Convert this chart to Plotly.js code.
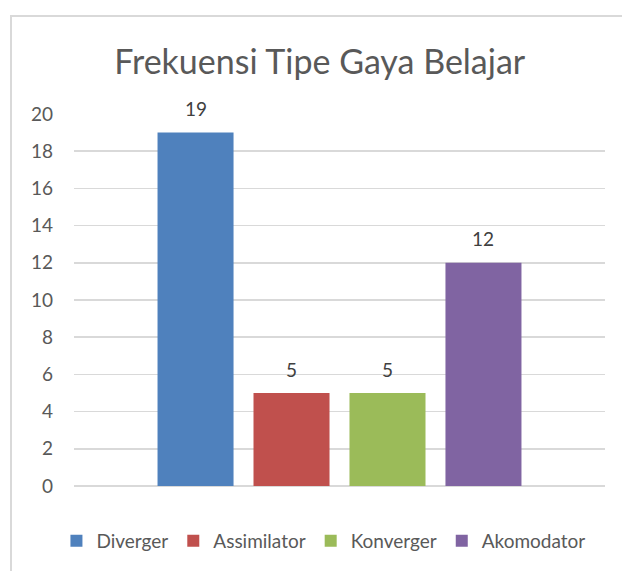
<!DOCTYPE html>
<html>
<head>
<meta charset="utf-8">
<script src="https://cdn.plot.ly/plotly-3.0.1.min.js"></script>
<style>
html,body{margin:0;padding:0;background:#fff;}
#wrap{position:relative;width:622px;height:571px;overflow:hidden;}
#frame{position:absolute;left:10px;top:15px;width:640px;height:600px;border-left:2px solid #d9d9d9;border-top:2px solid #d9d9d9;box-sizing:border-box;pointer-events:none;}
#chart{position:absolute;left:0;top:0;width:622px;height:571px;}
</style>
</head>
<body>
<div id="wrap"><div id="chart"></div><div id="frame"></div></div>
<script>
const category = ["Frekuensi"];
const seriesNames = ["Diverger", "Assimilator", "Konverger", "Akomodator"];
const seriesValues = [19, 5, 5, 12];
const seriesColors = ["#4F81BD", "#C0504D", "#9BBB59", "#8064A2"];
const yTicks = [0, 2, 4, 6, 8, 10, 12, 14, 16, 18, 20];

const FONT = "Lato, 'Open Sans', sans-serif";
const BARGAP = 0.277;
const BARGROUPGAP = 0.208;

const traces = seriesNames.map((name, i) => ({
  type: "bar",
  name: name,
  x: category,
  y: [seriesValues[i]],
  marker: {color: seriesColors[i]},
  hoverinfo: "skip"
}));

// data labels placed at each bar's slot centre (derived from bargap) above the bar top
const n = seriesNames.length;
const slot = (1 - BARGAP) / n;
const annotations = seriesValues.map((v, i) => ({
  xref: "x", yref: "y",
  x: -(1 - BARGAP) / 2 + slot * (i + 0.5),
  y: v,
  text: String(v),
  showarrow: false,
  yanchor: "middle",
  yshift: 24,
  font: {family: FONT, size: 19, color: "#404040"}
}));

const layout = {
  width: 622, height: 571,
  margin: {l: 74, r: 17, t: 114, b: 85, autoexpand: false},
  paper_bgcolor: "rgba(0,0,0,0)",
  plot_bgcolor: "#fff",
  font: {family: FONT, color: "#595959"},
  title: {text: "Frekuensi Tipe Gaya Belajar", font: {family: FONT, size: 34, color: "#595959"}, x: 0.514, xanchor: "center", y: 0.892, yanchor: "middle"},
  barmode: "group",
  bargap: BARGAP,
  bargroupgap: BARGROUPGAP,
  showlegend: true,
  legend: {orientation: "h", xref: "container", yref: "container", x: 0.52, xanchor: "center", y: 0.0525, yanchor: "middle", font: {family: FONT, size: 19, color: "#595959"}, traceorder: "normal"},
  annotations: annotations,
  xaxis: {range: [-0.5, 0.5], showticklabels: false, showgrid: false, showline: false, zeroline: false, ticks: ""},
  yaxis: {range: [0, 20], tickvals: yTicks, ticktext: yTicks.map(String), showgrid: true, gridcolor: "#d9d9d9", gridwidth: 1.5, zeroline: true, zerolinecolor: "#d9d9d9", zerolinewidth: 1.5, showline: false, ticks: "", ticklabelstandoff: 20, tickfont: {family: FONT, size: 19, color: "#595959"}, fixedrange: true}
};

Plotly.newPlot("chart", traces, layout, {displayModeBar: false, staticPlot: true});
</script>
</body>
</html>
